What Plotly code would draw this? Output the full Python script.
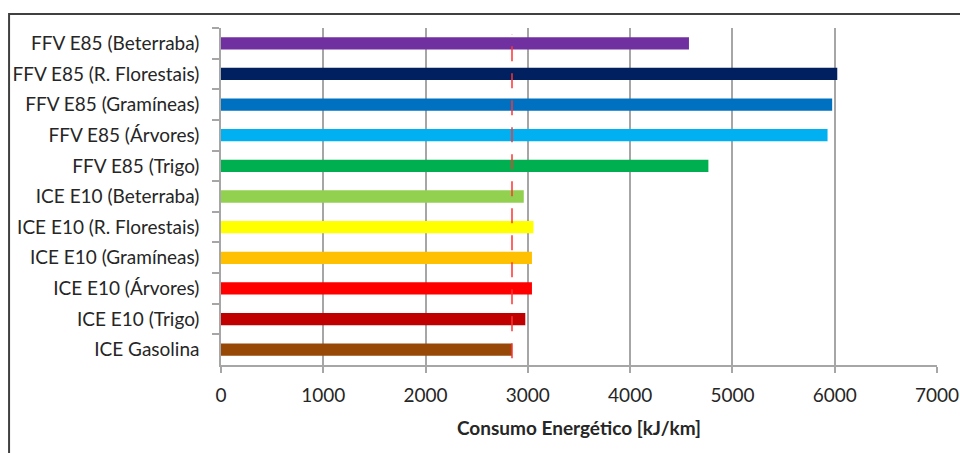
import plotly.graph_objects as go

# Energy consumption per vehicle / fuel pathway (kJ/km)
categories = [
    "FFV E85 (Beterraba)",
    "FFV E85 (R. Florestais)",
    "FFV E85 (Gramíneas)",
    "FFV E85 (Árvores)",
    "FFV E85 (Trigo)",
    "ICE E10 (Beterraba)",
    "ICE E10 (R. Florestais)",
    "ICE E10 (Gramíneas)",
    "ICE E10 (Árvores)",
    "ICE E10 (Trigo)",
    "ICE Gasolina",
]
values = [4575, 6025, 5975, 5930, 4765, 2960, 3055, 3040, 3040, 2975, 2845]
colors = [
    "#7030a0", "#002060", "#0070c0", "#00b0f0", "#00b050",
    "#92d050", "#ffff00", "#ffc000", "#ff0000", "#c00000", "#974706",
]
x_ticks = [0, 1000, 2000, 3000, 4000, 5000, 6000, 7000]
reference_value = values[-1]  # gasoline baseline

font_family = "Lato, Open Sans, sans-serif"
text_color = "#262626"
font_size = 19

fig = go.Figure(
    go.Bar(
        y=categories,
        x=values,
        orientation="h",
        marker=dict(color=colors, line=dict(width=0)),
        width=0.4,
        hoverinfo="x+y",
    )
)

# Baseline marker: dashed red line at the gasoline consumption
fig.add_shape(
    type="line",
    xref="x", yref="paper",
    x0=reference_value, x1=reference_value,
    y0=0.02, y1=0.982,
    line=dict(color="#ff3333", width=1.5, dash="15px,12px"),
    layer="above",
)

# Chart frame (top and left edges)
fig.add_shape(
    type="rect",
    xref="paper", yref="paper",
    x0=-0.296, x1=1.2, y0=-0.4, y1=1.0415,
    line=dict(color="#404040", width=2),
    fillcolor="rgba(0,0,0,0)",
    layer="below",
)

fig.update_layout(
    width=960,
    height=453,
    margin=dict(l=221, r=23, t=28, b=88),
    paper_bgcolor="white",
    plot_bgcolor="white",
    showlegend=False,
    bargap=0.6,
    font=dict(family=font_family, size=font_size, color=text_color),
    xaxis=dict(
        range=[0, 7000],
        tickvals=x_ticks,
        ticktext=[str(v) for v in x_ticks],
        showgrid=True,
        gridcolor="#a6a6a6",
        gridwidth=1.5,
        zeroline=False,
        showline=True,
        linecolor="#a6a6a6",
        linewidth=1.5,
        ticks="outside",
        ticklen=6,
        tickcolor="#a6a6a6",
        tickwidth=1.5,
        ticklabelstandoff=6,
        tickfont=dict(size=font_size, color=text_color),
        title=dict(
            text="<b>Consumo Energético [kJ/km]</b>",
            font=dict(size=font_size, color=text_color),
            standoff=17,
        ),
        automargin=False,
        fixedrange=True,
    ),
    yaxis=dict(
        autorange="reversed",
        showgrid=False,
        zeroline=False,
        showline=True,
        linecolor="#a6a6a6",
        linewidth=1.5,
        ticks="outside",
        ticklen=7,
        tickcolor="#a6a6a6",
        tickwidth=1.5,
        tickson="boundaries",
        ticklabelstandoff=16,
        tickfont=dict(size=font_size, color=text_color),
        automargin=False,
        fixedrange=True,
    ),
)

fig.write_html("out.html")
